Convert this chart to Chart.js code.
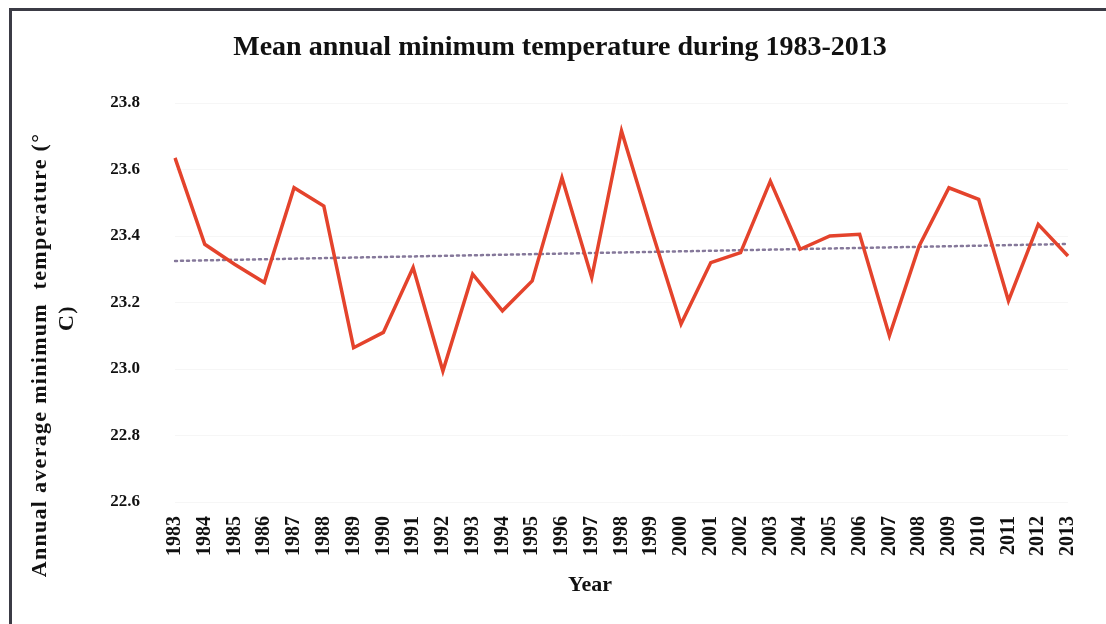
<!DOCTYPE html>
<html>
<head>
<meta charset="utf-8">
<title>Mean annual minimum temperature during 1983-2013</title>
<script src="https://cdn.jsdelivr.net/npm/chart.js@4.4.1/dist/chart.umd.min.js"></script>
<style>
  html, body { margin: 0; padding: 0; background: #ffffff; }
  #wrap { position: relative; width: 1106px; height: 624px; overflow: hidden; }
  #frame {
    position: absolute; left: 9px; top: 8px; right: -4px; bottom: -4px;
    border-top: 3px solid #3b3b45; border-left: 3px solid #3b3b45;
    pointer-events: none;
  }
  canvas { position: absolute; left: 0; top: 0; }
</style>
</head>
<body>
<div id="wrap">
  <canvas id="chart" width="1106" height="624"></canvas>
  <div id="frame"></div>
</div>
<script>
// Years on the category axis
const years = [
  '1983','1984','1985','1986','1987','1988','1989','1990','1991','1992',
  '1993','1994','1995','1996','1997','1998','1999','2000','2001','2002',
  '2003','2004','2005','2006','2007','2008','2009','2010','2011','2012','2013'
];

// Annual average minimum temperature (°C)
const minTemp = [
  23.635, 23.375, 23.315, 23.26, 23.545, 23.49, 23.064, 23.11, 23.305, 22.994,
  23.285, 23.175, 23.265, 23.575, 23.275, 23.716, 23.42, 23.135, 23.32, 23.35,
  23.565, 23.36, 23.40, 23.405, 23.10, 23.37, 23.545, 23.51, 23.205, 23.435, 23.34
];

// Linear trend line: value at the first and at the last year
const trendEnds = [23.325, 23.376];

// Y axis ticks
const yTicks = [22.6, 22.8, 23.0, 23.2, 23.4, 23.6, 23.8];

const titleText = 'Mean annual minimum temperature during 1983-2013';
const yTitleLines = ['Annual average minimum  temperature (\u00B0', 'C)'];
const xTitleText = 'Year';

const SERIF = '"Liberation Serif", "DejaVu Serif", serif';

const trendData = years.map((_, i) =>
  i === 0 ? trendEnds[0] : (i === years.length - 1 ? trendEnds[1] : null));

// Chart title and axis titles, placed around the plot area
const chartTexts = {
  id: 'chartTexts',
  afterDraw(chart) {
    const { ctx, chartArea } = chart;
    ctx.save();
    ctx.fillStyle = '#111';
    ctx.textAlign = 'center';
    ctx.textBaseline = 'middle';

    ctx.font = 'bold 28px ' + SERIF;
    ctx.fillText(titleText, chartArea.left + 385, chartArea.top - 55);

    ctx.font = 'bold 22px ' + SERIF;
    ctx.letterSpacing = '1.3px';
    ctx.save();
    ctx.translate(chartArea.left - 135, chartArea.top + 252);
    ctx.rotate(-Math.PI / 2);
    ctx.fillText(yTitleLines[0], 0, 0);
    ctx.restore();
    ctx.save();
    ctx.translate(chartArea.left - 108, chartArea.top + 215);
    ctx.rotate(-Math.PI / 2);
    ctx.fillText(yTitleLines[1], 0, 0);
    ctx.restore();

    ctx.letterSpacing = '0px';
    ctx.font = 'bold 22px ' + SERIF;
    ctx.fillText(xTitleText, chartArea.left + 415, 585);
    ctx.restore();
  }
};

new Chart(document.getElementById('chart'), {
  type: 'line',
  data: {
    labels: years,
    datasets: [
      {
        label: 'Minimum temperature',
        data: minTemp,
        borderColor: '#e4432c',
        borderWidth: 3.5,
        pointRadius: 0,
        tension: 0,
        fill: false
      },
      {
        label: 'Linear trend',
        data: trendData,
        spanGaps: true,
        borderColor: '#85789a',
        borderWidth: 2.5,
        borderDash: [2, 4],
        borderCapStyle: 'round',
        pointRadius: 0,
        fill: false
      }
    ]
  },
  options: {
    responsive: false,
    animation: false,
    layout: { padding: { left: 0, right: 38, top: 103, bottom: 0 } },
    plugins: {
      legend: { display: false },
      tooltip: { enabled: false },
      title: { display: false }
    },
    scales: {
      x: {
        offset: false,
        grid: { display: false, drawTicks: false },
        border: { display: false },
        ticks: {
          color: '#111',
          font: { family: SERIF, size: 20, weight: 'bold' },
          minRotation: 90,
          maxRotation: 90,
          autoSkip: false,
          padding: 14
        },
        afterFit(scale) { scale.height = 122; }
      },
      y: {
        min: 22.6,
        max: 23.8,
        afterBuildTicks(scale) { scale.ticks = yTicks.map(v => ({ value: v })); },
        grid: { color: 'rgba(0,0,0,0.035)', drawTicks: false },
        border: { display: false },
        ticks: {
          color: '#111',
          font: { family: SERIF, size: 17, weight: 'bold' },
          padding: 35,
          callback: v => Number(v).toFixed(1)
        },
        afterFit(scale) { scale.width = 175; }
      }
    }
  },
  plugins: [chartTexts]
});
</script>
</body>
</html>
